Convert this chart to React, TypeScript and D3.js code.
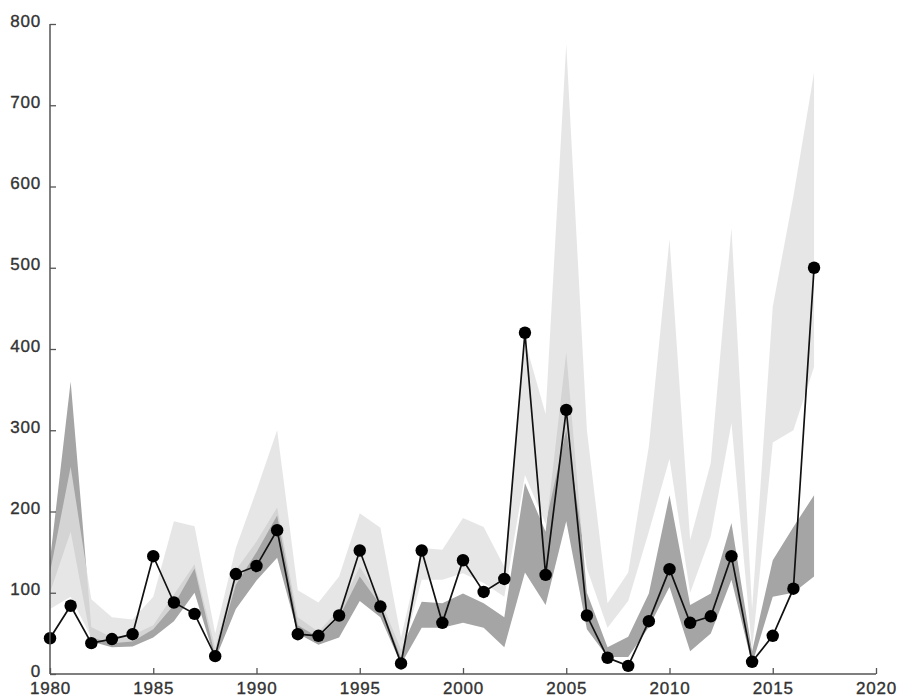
import { useRef, useEffect } from "react";
import * as d3 from "d3";

const years = d3.range(1980, 2018);

const observed = [
  44, 84, 38, 43, 49, 145, 88, 74, 22, 123, 133, 177, 49, 47, 72, 152, 83, 13, 152, 63,
  140, 101, 117, 420, 122, 325, 72, 20, 10, 65, 129, 63, 71, 145, 15, 47, 105, 500,
];

// wide (light) ensemble range
const lightLow = [
  80, 95, 45, 38, 40, 55, 85, 130, 22, 110, 150, 195, 60, 45, 70, 120, 85, 20, 116, 116,
  124, 112, 95, 245, 185, 300, 130, 57, 90, 175, 265, 100, 170, 309, 30, 285, 300, 378,
];
const lightHigh = [
  125, 255, 92, 70, 67, 95, 188, 182, 50, 155, 226, 300, 103, 88, 120, 198, 180, 45, 155, 153,
  192, 181, 132, 410, 320, 775, 300, 87, 125, 280, 535, 165, 260, 549, 80, 452, 588, 740,
];

// narrow (dark) ensemble range
const darkLow = [
  100, 175, 40, 33, 34, 45, 65, 100, 18, 80, 115, 143, 50, 36, 45, 90, 70, 12, 57, 57,
  63, 57, 33, 125, 85, 188, 55, 21, 21, 58, 107, 28, 50, 116, 12, 95, 100, 120,
];
const darkHigh = [
  140, 360, 58, 45, 48, 60, 98, 135, 32, 128, 163, 205, 70, 52, 80, 132, 92, 30, 89, 87,
  99, 87, 70, 235, 175, 396, 100, 33, 46, 99, 220, 85, 99, 186, 28, 140, 181, 220,
];

const yTicks = [0, 100, 200, 300, 400, 500, 600, 700, 800];
const xTicks = [1980, 1985, 1990, 1995, 2000, 2005, 2010, 2015, 2020];

export default function App() {
  const svgRef = useRef<SVGSVGElement | null>(null);

  useEffect(() => {
    if (!svgRef.current) return;
    const svg = d3.select(svgRef.current);
    svg.selectAll("*").remove();

    const width = 898;
    const height = 699;
    const margin = { top: 24, right: 22, bottom: 25, left: 50 };

    const x = d3.scaleLinear().domain([1980, 2020]).range([margin.left, width - margin.right]);
    const y = d3.scaleLinear().domain([0, 800]).range([height - margin.bottom, margin.top]);

    const rows = years.map((yr, i) => ({
      yr,
      obs: observed[i],
      lLo: lightLow[i],
      lHi: lightHigh[i],
      dLo: darkLow[i],
      dHi: darkHigh[i],
    }));
    type Row = (typeof rows)[number];

    const darkArea = d3
      .area<Row>()
      .x((d) => x(d.yr))
      .y0((d) => y(d.dLo))
      .y1((d) => y(d.dHi));
    const lightArea = d3
      .area<Row>()
      .x((d) => x(d.yr))
      .y0((d) => y(d.lLo))
      .y1((d) => y(d.lHi));

    svg.append("path").datum(rows).attr("d", darkArea).attr("fill", "#a5a5a5");
    svg
      .append("path")
      .datum(rows)
      .attr("d", lightArea)
      .attr("fill", "#e0e0e0")
      .attr("fill-opacity", 0.8);

    const line = d3
      .line<Row>()
      .x((d) => x(d.yr))
      .y((d) => y(d.obs));
    svg
      .append("path")
      .datum(rows)
      .attr("d", line)
      .attr("fill", "none")
      .attr("stroke", "#111")
      .attr("stroke-width", 1.7);

    svg
      .append("g")
      .selectAll("circle")
      .data(rows)
      .join("circle")
      .attr("cx", (d) => x(d.yr))
      .attr("cy", (d) => y(d.obs))
      .attr("r", 6.2)
      .attr("fill", "#000");

    // axes
    const axisColor = "#555";
    const fontFamily = "'Liberation Sans', Arial, sans-serif";

    const styleText = (sel: d3.Selection<any, any, any, any>) =>
      sel
        .attr("fill", "#333")
        .attr("stroke", "#333")
        .attr("stroke-width", 0.35)
        .attr("font-size", 17)
        .attr("letter-spacing", 0.8)
        .attr("font-family", fontFamily);

    const xAxis = d3.axisBottom(x).tickValues(xTicks).tickSize(-6).tickPadding(12).tickFormat(d3.format("d"));
    const gx = svg
      .append("g")
      .attr("transform", `translate(0,${height - margin.bottom})`)
      .call(xAxis);
    gx.select(".domain").attr("stroke", axisColor).attr("stroke-width", 1.5).attr("d", `M${x(1980)},0H${x(2020)}`);
    gx.selectAll(".tick line").attr("stroke", axisColor).attr("stroke-width", 1.3);
    styleText(gx.selectAll(".tick text")).attr("dy", "0.45em");

    const yAxis = d3.axisLeft(y).tickValues(yTicks).tickSize(-6).tickPadding(9);
    const gy = svg.append("g").attr("transform", `translate(${margin.left},0)`).call(yAxis);
    gy.select(".domain").attr("stroke", axisColor).attr("stroke-width", 1.5).attr("d", `M0,${y(0)}V${y(800)}`);
    gy.selectAll(".tick line").attr("stroke", axisColor).attr("stroke-width", 1.3);
    styleText(gy.selectAll(".tick text")).attr("dy", "0.12em");
  }, []);

  return (
    <div style={{ position: "absolute", left: 0, top: 0, background: "#fff" }}>
      <svg ref={svgRef} width={898} height={699} viewBox="0 0 898 699" style={{ display: "block" }}></svg>
    </div>
  );
}
